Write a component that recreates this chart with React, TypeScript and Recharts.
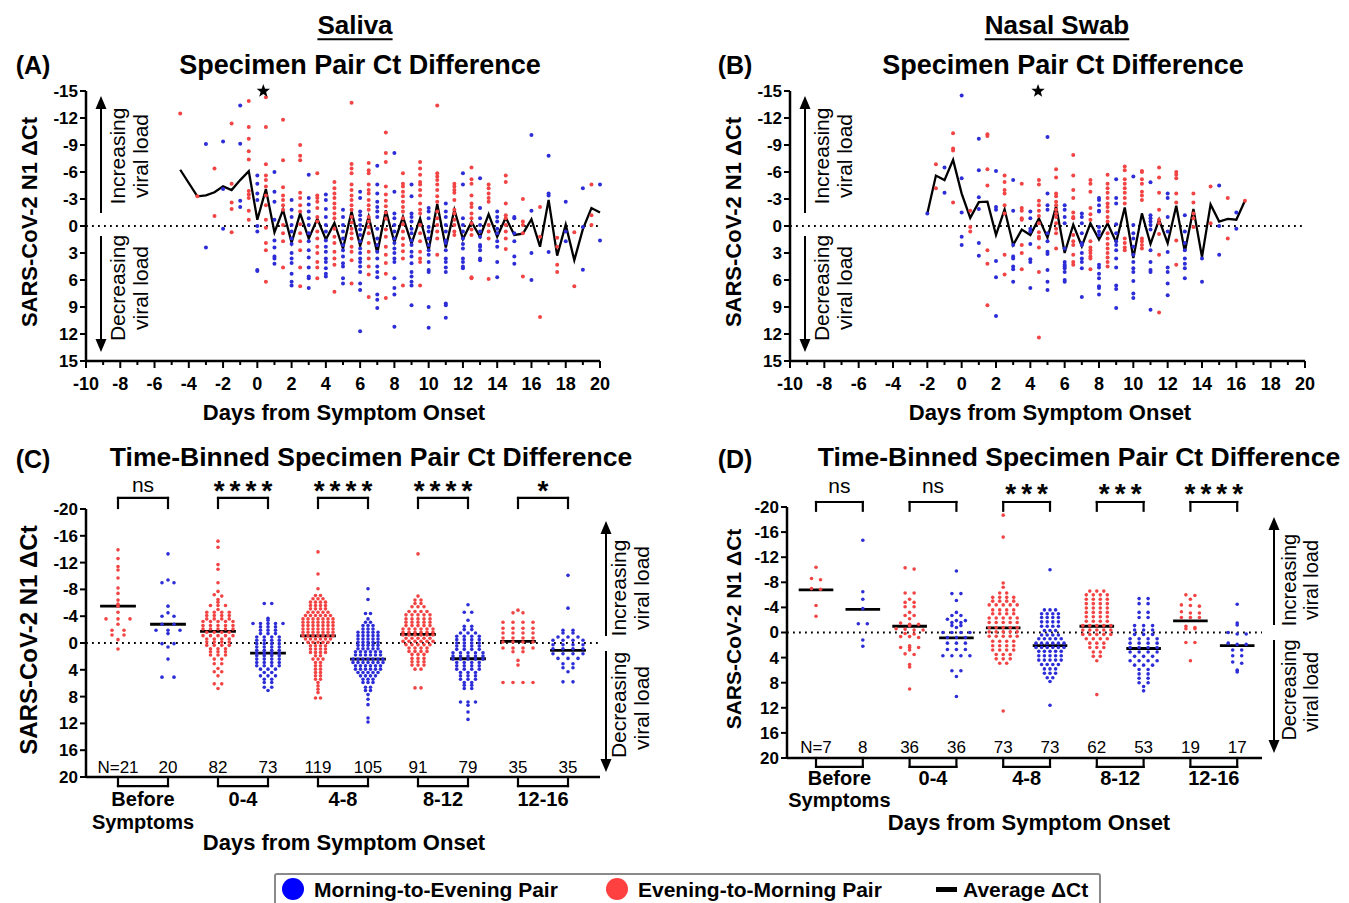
import React from 'react';
import { ComposedChart, Scatter, Line, XAxis, YAxis, ReferenceLine } from 'recharts';

const FONT = '"Liberation Sans", Arial, Helvetica, sans-serif';
const BLUE = '#2d2dd8';
const RED = '#f24444';

// ---------- Panel A: saliva, [day, ΔCt values of the pairs collected that day]
const salivaMorningEvening: [number, number[]][] = [
  [-3, [-9.1, 2.4]],
  [-2, [-9.4, -4.1, 0.3]],
  [-1, [-13.4, -9.15, -2.8, -2.1]],
  [0, [-5.6, -4.7, -3.6, -2.9, 0, 0.6, 4.9, 5.0]],
  [1, [-6.0, -3.8, -2.7, -0.7, 1.6, 2.4, 3.4, 3.6, 4.2]],
  [2, [-2.9, -1.8, -1.0, -0.1, 0.6, 1.4, 2.0, 3.0, 3.6, 4.1, 5.3, 6.2, 6.6]],
  [3, [-5.7, -3.1, -2.4, -1.6, -0.85, -0.1, 0.8, 1.7, 2.7, 3.5, 4.6, 5.6, 5.8, 6.9]],
  [4, [-3.5, -2.9, -1.9, -1.0, -0.1, 0.6, 1.6, 2.3, 2.85, 3.6, 4.0, 4.7, 5.3, 5.6]],
  [5, [-1.8, -1.0, -0.1, 0.6, 1.4, 2.1, 2.7, 3.4, 4.15, 4.5, 5.8, 6.4]],
  [6, [-3.8, -3.1, -1.6, -1.2, -0.7, -0.1, 0.4, 1.0, 1.7, 2.5, 3.0, 3.6, 4.0, 4.5, 5.1, 6.4, 7.1, 11.7]],
  [7, [-6.7, -4.6, -3.6, -2.7, -2.1, -1.6, -1.0, 0.3, 1.4, 2.1, 2.85, 3.6, 4.5, 5.1, 5.7, 7.6, 8.2, 9.1]],
  [8, [-8.1, -3.8, -1.4, -0.85, -0.1, 0.6, 1.4, 1.9, 2.5, 3.0, 3.6, 4.0, 5.8, 6.9, 7.6, 11.2]],
  [9, [-4.6, -3.3, -1.4, -1.0, -0.5, 0.3, 0.8, 1.6, 2.1, 2.85, 3.4, 4.15, 5.1, 5.6, 6.2, 6.6, 8.8]],
  [10, [-2.0, -1.6, -0.85, 0.1, 0.6, 1.4, 2.1, 2.7, 3.2, 4.0, 4.9, 5.1, 9.0, 11.3]],
  [11, [-2.5, -1.6, -1.0, -0.1, 0.6, 1.6, 1.9, 2.7, 3.6, 4.0, 4.6, 5.1, 8.6, 8.8, 10.2]],
  [12, [-5.85, -4.6, -0.85, -0.1, 0.6, 1.4, 2.0, 2.5, 3.6, 4.0, 4.5, 4.7]],
  [13, [-5.3, -2.0, -0.85, -0.1, 0.6, 1.2, 2.1, 2.3, 2.7, 3.6, 3.8]],
  [14, [-1.6, -1.0, -0.5, 0.3, 0.8, 1.7, 2.3, 4.0, 5.7]],
  [15, [-1.0, -0.85, 0.8, 1.7, 3.4, 4.2]],
  [16, [-10.1, -1.7, 3.0, 6.0]],
  [17, [-7.8, -3.6, -3.4, 2.9]],
  [18, [-2.7, 0.6, 1.7]],
  [19, [-4.2, 0.1, 4.85]],
  [20, [-4.6, 1.6]],
];
const salivaEveningMorning: [number, number[]][] = [
  [-4.5, [-12.5]],
  [-3.5, [-3.3]],
  [-2.5, [-6.4, -1.1]],
  [-1.5, [-11.4, -4.7, -2.6, -1.9, 0.7]],
  [-0.5, [-13.9, -11.0, -9.7, -8.3, -7.4, -3.9, -3.5, -3.1, -1.7, -0.7]],
  [0.5, [-14.3, -11.0, -6.85, -5.6, -5.1, -4.4, -3.4, -2.3, -0.7, 0.2, 1.9, 2.7, 6.2]],
  [1.5, [-11.8, -7.3, -4.3, -3.4, -2.9, -2.3, -1.8, -0.1, 0.8, 1.7, 4.6]],
  [2.5, [-9.0, -7.8, -7.3, -3.7, -3.1, -2.3, -1.6, -0.2, 0.8, 1.7, 2.7, 4.6, 6.7]],
  [3.5, [-5.85, -3.4, -3.1, -2.7, -2.0, -1.0, -0.5, 0.6, 1.4, 2.3, 3.0, 4.0, 4.6, 5.8]],
  [4.5, [-4.9, -4.2, -3.6, -3.1, -2.5, -2.0, -1.4, -0.85, 0.3, 1.2, 1.9, 2.85, 3.6, 4.3, 7.3]],
  [5.5, [-13.7, -6.9, -6.4, -5.85, -4.6, -4.0, -3.4, -2.9, -2.3, -1.8, -1.0, -0.4, 0.3, 0.8, 1.4, 2.3, 2.85, 3.8, 6.4]],
  [6.5, [-7.0, -6.2, -5.85, -4.6, -4.0, -3.6, -2.9, -2.3, -1.8, -1.0, -0.5, 0.1, 0.8, 1.9, 2.85, 3.6, 4.5, 5.4, 7.9]],
  [7.5, [-10.4, -8.1, -7.1, -4.4, -3.5, -2.8, -2.2, -1.5, -0.8, 0.4, 1.2, 2.3, 3.2, 4.1, 5.3, 8.0]],
  [8.5, [-5.85, -4.7, -4.4, -3.8, -3.3, -2.7, -2.1, -1.6, -0.85, -0.2, 0.6, 1.4, 2.1, 2.8, 3.6, 6.6]],
  [9.5, [-7.1, -6.4, -5.7, -4.9, -4.6, -4.0, -3.4, -2.5, -1.8, -1.4, -0.1, 0.8, 1.7, 2.85, 3.6, 4.0, 6.6]],
  [10.5, [-13.4, -5.85, -5.5, -5.1, -4.6, -4.0, -3.3, -2.7, -1.6, -0.85, -0.1, 0.6, 1.4, 3.2]],
  [11.5, [-4.7, -4.4, -4.0, -3.7, -2.9, -1.8, -1.4, -0.7, -0.1, 0.6, 1.0]],
  [12.5, [-6.5, -5.2, -4.7, -3.4, -2.5, -2.1, -1.4, -0.85, -0.3, 0.4, 1.0, 5.7, 5.8]],
  [13.5, [-4.6, -4.2, -3.6, -3.1, -2.7, -0.1, 0.6, 1.4, 5.9]],
  [14.5, [-5.6, -4.9, -2.5, -1.2, -0.85, -0.1, 0.6, 1.4, 2.55]],
  [15.5, [-3.0, -0.5, -0.1, 0.8, 5.6]],
  [16.5, [-2.1, 1.2, 10.1]],
  [17.5, [1.3, 2.3, 4.3, 5.1]],
  [18.5, [0.7, 6.7]],
  [19.5, [-4.6, -1.2, -0.1]],
];
const salivaAvgDays = [-4.5, -3.5, -3, -2.5, -2, -1.5, -1, -0.5, 0, 0.5, 1, 1.5, 2, 2.5, 3, 3.5, 4, 4.5, 5, 5.5, 6, 6.5, 7, 7.5, 8, 8.5, 9, 9.5, 10, 10.5, 11, 11.5, 12, 12.5, 13, 13.5, 14, 14.5, 15, 15.5, 16, 16.5, 17, 17.5, 18, 18.5, 19, 19.5, 20];
const salivaAvgDelta = [-6.25, -3.3, -3.4, -3.75, -4.4, -4.0, -5.1, -6.1, -0.7, -4.1, 0.7, -1.8, 1.85, -1.4, 1.4, -0.8, 1.5, -0.35, 2.5, -1.6, 2.2, -1.05, 3.0, -1.75, 1.8, -1.0, 1.95, -0.85, 2.7, -2.45, 2.4, -1.8, 1.45, -0.45, 1.2, -1.3, 1.2, -0.95, 1.0, 0.85, -0.75, 2.3, -2.9, 3.3, -0.15, 3.8, 0.35, -2.0, -1.5];

// ---------- Panel B: nasal swab
const nasalMorningEvening: [number, number[]][] = [
  [-2, [-1.4]],
  [-1, [-6.5, -3.7]],
  [0, [-14.5, -5.3, -1.5, 1.2, 2.1]],
  [1, [-9.7, -6.2, -3.2, -1.9, 1.9, 3.3]],
  [2, [-6.1, -2.1, -1.8, 3.9, 5.7, 10.0]],
  [3, [-5.1, -1.7, 2.1, 3.4, 3.6, 4.5, 4.8, 6.2]],
  [4, [-1.6, -0.85, 0.3, 0.6, 2.0, 3.7, 4.0, 6.9]],
  [5, [-9.9, -3.6, -2.3, -1.8, 0.8, 1.7, 2.85, 3.1, 4.9, 6.2, 7.1]],
  [6, [-2.3, -1.8, -1.0, -0.3, 2.5, 4.0, 4.3, 4.5, 4.7, 5.1, 6.0, 6.2]],
  [7, [-1.4, -1.0, -0.3, 0.8, 1.9, 2.1, 3.0, 3.6, 4.0, 4.7, 7.9]],
  [8, [-3.1, -2.9, -2.3, -1.7, -1.6, 0.1, 0.6, 1.0, 4.3, 4.6, 5.3, 5.8, 6.7, 6.9, 7.6]],
  [9, [-5.2, -3.1, -2.5, -0.2, 0.8, 1.7, 2.1, 2.7, 3.6, 4.6, 6.6, 7.0, 9.1]],
  [10, [-5.5, -0.1, 0.8, 1.4, 2.3, 3.2, 4.0, 4.7, 5.1, 6.1, 7.5, 8.0]],
  [11, [-4.85, -1.2, -0.85, -0.5, -0.1, 0.4, 2.7, 4.0, 4.9, 5.1, 9.3]],
  [12, [-3.6, -3.1, -1.0, 0.6, 2.9, 4.6, 5.1, 6.4, 7.7]],
  [13, [-1.2, 0.6, 1.9, 2.7, 3.6, 4.2, 4.7, 5.8]],
  [14, [3.6, 6.2]],
  [15, [-4.5, 0, 3.2]],
  [16, [-1.5, 0.3]],
];
const nasalEveningMorning: [number, number[]][] = [
  [-1.5, [-6.85, -4.2]],
  [-0.5, [-10.3, -8.6, -8.4, -2.6]],
  [0.5, [-1.7, 0.1, 0.6]],
  [1.5, [-10.2, -10.0, -6.3, -4.5, 2.7, 4.2, 8.8]],
  [2.5, [-5.6, -4.9, -4.0, -3.6, -2.3, -1.4, 3.2, 5.4]],
  [3.5, [-4.7, -2.0, -1.7, -0.85, -0.7, 2.1, 3.0, 4.8]],
  [4.5, [-5.1, -4.6, -2.8, -2.3, -1.7, -1.1, -0.3, 0.7, 1.2, 1.4, 2.4, 5.1, 12.4]],
  [5.5, [-6.3, -5.4, -3.6, -3.3, -2.7, -2.3, -1.8, -1.4, -1.0, -0.3, 0.3, 0.8, 2.5]],
  [6.5, [-7.9, -5.6, -4.0, -3.1, -1.5, -1.0, -0.85, 1.0, 1.7, 2.1, 3.2, 4.0, 4.3]],
  [7.5, [-5.1, -4.7, -3.8, -2.0, -1.3, -0.7, 1.7, 2.4, 2.7, 3.0, 3.4, 3.6, 4.8]],
  [8.5, [-5.7, -4.7, -4.2, -3.7, -3.1, -2.5, -2.1, -1.6, -1.0, -0.5, 0.8, 1.4, 2.0, 2.5, 3.0, 3.5, 4.0, 4.5]],
  [9.5, [-6.6, -6.2, -5.2, -4.7, -4.2, -3.7, -3.1, -2.5, 1.4, 1.9, 2.4, 2.7]],
  [10.5, [-6.1, -6.0, -5.2, -4.7, -3.8, -3.4, -2.9, 1.4, 1.7, 2.1, 2.5]],
  [11.5, [-6.5, -5.4, -3.7, -1.8, -0.7, -0.3, 0.9, 3.2, 9.6]],
  [12.5, [-6.0, -5.7, -5.3, -3.6, -2.6, 1.6, 4.3]],
  [13.5, [-3.6, -2.6, -1.4, -0.85, 0.1]],
  [14.5, [-4.4, -0.3]],
  [15.5, [-3.1, 1.4]],
  [16.5, [-2.8]],
];
const nasalAvgDays = [-2, -1.5, -1, -0.5, 0, 0.5, 1, 1.5, 2, 2.5, 3, 3.5, 4, 4.5, 5, 5.5, 6, 6.5, 7, 7.5, 8, 8.5, 9, 9.5, 10, 10.5, 11, 11.5, 12, 12.5, 13, 13.5, 14, 14.5, 15, 15.5, 16, 16.5];
const nasalAvgDelta = [-1.4, -5.6, -5.1, -7.35, -3.6, -0.9, -2.65, -2.7, 1.0, -1.85, 2.1, 0.4, 1.0, -0.85, 1.3, -2.2, 3.0, -0.15, 2.25, -0.3, 1.5, -0.3, 1.8, -2.05, 3.55, -1.4, 2.0, -0.7, 1.9, -2.25, 2.85, -1.9, 3.45, -2.4, -0.5, -0.8, -0.7, -2.8];

const dayTicks = [-10, -8, -6, -4, -2, 0, 2, 4, 6, 8, 10, 12, 14, 16, 18, 20];
const deltaTicksAB = [-15, -12, -9, -6, -3, 0, 3, 6, 9, 12, 15];
const deltaTicksCD = [-20, -16, -12, -8, -4, 0, 4, 8, 12, 16, 20];

// ---------- Panels C/D: time-binned pairs, each group as [ΔCt, number of pairs at that level]
const binLabels = [['Before', 'Symptoms'], ['0-4'], ['4-8'], ['8-12'], ['12-16']];

const salivaBins: [number, number][][] = [
  [[-13.9, 1], [-12.6, 1], [-11.4, 1], [-10.9, 1], [-9.7, 1], [-8.2, 1], [-7.4, 1], [-6.4, 1], [-5.8, 1], [-5.5, 1], [-4.6, 1], [-3.6, 3], [-2.8, 1], [-1.9, 2], [-1.2, 2], [-0.5, 1], [0.9, 1]],
  [[-13.3, 1], [-9.4, 1], [-9.0, 2], [-5.5, 1], [-4.5, 1], [-4.0, 2], [-2.8, 2], [-1.9, 3], [-1.4, 1], [0.1, 2], [0.6, 1], [2.4, 1], [5.1, 2]],
  [[-15.2, 1], [-14.3, 1], [-11.7, 1], [-11.0, 1], [-9.0, 1], [-7.7, 1], [-7.2, 1], [-7.0, 1], [-6.5, 1], [-6.1, 1], [-5.6, 3], [-5.0, 1], [-4.6, 4], [-4.1, 4], [-3.6, 4], [-3.2, 5], [-2.6, 5], [-2.1, 5], [-1.6, 4], [-1.1, 5], [-0.6, 4], [-0.15, 4], [0.35, 4], [0.85, 3], [1.3, 3], [1.8, 3], [2.4, 2], [3.1, 2], [3.8, 1], [4.3, 2], [4.9, 1], [6.1, 2], [6.8, 1]],
  [[-5.9, 2], [-3.7, 1], [-3.4, 1], [-2.9, 5], [-2.4, 3], [-1.9, 3], [-1.4, 3], [-0.9, 4], [-0.4, 4], [0.1, 4], [0.6, 4], [1.1, 4], [1.5, 4], [1.9, 4], [2.4, 4], [2.9, 4], [3.4, 4], [3.9, 3], [4.4, 2], [4.9, 3], [5.4, 2], [5.9, 2], [6.6, 2], [7.1, 1]],
  [[-13.6, 1], [-10.3, 1], [-8.1, 1], [-7.1, 2], [-6.6, 3], [-6.1, 4], [-5.6, 4], [-5.1, 4], [-4.6, 5], [-4.1, 6], [-3.6, 7], [-3.1, 7], [-2.6, 7], [-2.1, 7], [-1.6, 7], [-1.1, 7], [-0.6, 6], [-0.1, 5], [0.4, 4], [0.9, 4], [1.4, 4], [1.9, 2], [2.4, 3], [2.9, 2], [3.4, 2], [3.9, 2], [4.4, 2], [4.9, 2], [5.4, 2], [5.9, 1], [6.4, 1], [6.9, 1], [7.4, 1], [8.2, 2]],
  [[-8.1, 1], [-6.5, 1], [-4.4, 2], [-3.6, 1], [-3.1, 2], [-2.6, 3], [-2.1, 3], [-1.6, 5], [-1.1, 5], [-0.6, 5], [-0.1, 5], [0.35, 5], [0.85, 5], [1.3, 6], [1.8, 6], [2.4, 7], [2.9, 7], [3.4, 6], [3.9, 6], [4.4, 5], [4.9, 4], [5.4, 3], [5.9, 3], [6.6, 2], [7.1, 2], [7.7, 1], [8.4, 1], [9.2, 1], [11.2, 1], [11.8, 1]],
  [[-13.3, 1], [-7.0, 1], [-6.4, 2], [-5.9, 2], [-5.4, 3], [-4.7, 4], [-4.2, 5], [-3.6, 5], [-3.1, 5], [-2.6, 5], [-2.1, 6], [-1.6, 6], [-1.2, 6], [-0.7, 5], [-0.25, 6], [0.25, 5], [0.75, 4], [1.25, 4], [1.7, 3], [2.3, 3], [2.8, 3], [3.3, 3], [3.9, 2], [6.7, 2]],
  [[-5.7, 1], [-4.6, 2], [-3.4, 1], [-2.5, 2], [-2.0, 2], [-1.5, 3], [-1.0, 4], [-0.5, 4], [0, 4], [0.45, 4], [0.95, 4], [1.45, 5], [1.95, 5], [2.4, 5], [2.9, 4], [3.4, 4], [3.9, 4], [4.4, 3], [4.9, 3], [5.4, 3], [5.9, 2], [6.3, 2], [6.8, 2], [8.8, 3], [9.3, 1], [10.3, 1], [11.4, 1]],
  [[-4.9, 1], [-4.5, 2], [-3.1, 4], [-2.2, 4], [-1.5, 4], [-0.75, 4], [-0.15, 4], [0.75, 4], [1.3, 2], [2.6, 1], [3.3, 1], [5.9, 4]],
  [[-10.1, 1], [-5.2, 1], [-1.9, 2], [-1.5, 2], [-0.9, 3], [-0.4, 4], [0.25, 4], [0.85, 4], [1.6, 4], [2.3, 3], [3.1, 2], [3.7, 2], [4.3, 1], [5.8, 2]],
];
const salivaMeans = [-5.5, -2.8, -1.75, 1.5, -1.05, 2.4, -1.3, 2.35, -0.25, 1.1];
const salivaN = [21, 20, 82, 73, 119, 105, 91, 79, 35, 35];
const salivaSig = ['ns', '****', '****', '****', '*'];

const nasalBins: [number, number][][] = [
  [[-10.4, 1], [-8.6, 1], [-8.4, 1], [-7.0, 1], [-6.9, 1], [-4.3, 1], [-2.6, 1]],
  [[-14.7, 1], [-6.5, 1], [-5.3, 1], [-3.8, 1], [-1.4, 2], [1.2, 1], [2.2, 1]],
  [[-10.3, 1], [-10.1, 1], [-6.3, 2], [-5.3, 1], [-4.8, 2], [-4.1, 2], [-3.2, 1], [-2.7, 2], [-2.2, 1], [-1.5, 1], [-1.3, 2], [-1.1, 1], [-0.6, 1], [-0.5, 1], [-0.4, 2], [0.15, 1], [0.25, 1], [0.65, 2], [0.8, 1], [2.1, 1], [2.4, 3], [2.8, 1], [3.4, 1], [3.5, 1], [5.1, 1], [5.5, 1], [9.0, 1]],
  [[-9.8, 1], [-6.2, 2], [-5.1, 1], [-3.2, 1], [-2.7, 2], [-2.1, 1], [-1.9, 2], [-1.6, 2], [-1.1, 2], [-0.8, 1], [0, 4], [0.8, 3], [1.7, 3], [2.7, 3], [3.7, 4], [6.1, 2], [7.0, 1], [10.2, 1]],
  [[-18.7, 1], [-15.2, 1], [-7.9, 1], [-7.2, 1], [-6.3, 2], [-5.6, 4], [-5.0, 4], [-4.4, 5], [-3.6, 4], [-3.0, 4], [-2.3, 5], [-1.6, 5], [-0.8, 5], [-0.1, 5], [0.6, 5], [1.4, 4], [2.1, 4], [2.8, 4], [3.5, 3], [4.2, 3], [4.9, 2], [12.5, 1]],
  [[-10.0, 1], [-3.6, 3], [-3.0, 4], [-2.4, 4], [-1.7, 4], [-1.0, 4], [-0.3, 3], [0.4, 4], [1.0, 5], [1.7, 6], [2.4, 6], [3.0, 5], [3.7, 5], [4.4, 5], [5.1, 4], [5.8, 3], [6.5, 3], [7.2, 2], [7.8, 1], [11.6, 1]],
  [[-6.6, 3], [-6.0, 4], [-5.3, 4], [-4.6, 4], [-3.9, 4], [-3.2, 4], [-2.5, 4], [-1.8, 4], [-1.1, 5], [-0.4, 5], [0.3, 5], [1.0, 4], [1.7, 3], [2.4, 3], [3.1, 2], [3.8, 2], [4.5, 1], [9.9, 1]],
  [[-5.4, 2], [-4.6, 2], [-3.2, 2], [-2.4, 2], [-1.1, 3], [-0.4, 3], [0.3, 3], [1.0, 4], [1.7, 4], [2.4, 4], [3.1, 4], [3.8, 3], [4.5, 4], [5.2, 3], [5.9, 2], [6.6, 2], [7.3, 2], [8.0, 2], [8.6, 1], [9.3, 1]],
  [[-6.0, 1], [-5.9, 1], [-5.3, 1], [-4.4, 1], [-4.3, 1], [-4.2, 1], [-3.3, 1], [-3.1, 2], [-2.4, 3], [-1.0, 1], [-0.8, 1], [-0.6, 2], [1.6, 2], [4.5, 1]],
  [[-4.5, 1], [-1.5, 1], [-1.2, 1], [0, 1], [0.25, 2], [1.7, 1], [1.9, 2], [2.8, 2], [3.7, 2], [4.7, 1], [4.9, 1], [6.0, 1], [6.3, 1]],
];
const nasalMeans = [-6.8, -3.7, -1.0, 0.85, -0.75, 2.1, -1.0, 2.55, -1.85, 2.1];
const nasalN = [7, 8, 36, 36, 73, 73, 62, 53, 19, 17];
const nasalSig = ['ns', 'ns', '***', '***', '****'];

// ---------- helpers
type Pt = { x: number; y: number };
const toPoints = (cols: [number, number[]][]): Pt[] => cols.flatMap(([x, ys]) => ys.map((y) => ({ x, y })));
const zip = (xs: number[], ys: number[]): Pt[] => xs.map((x, i) => ({ x, y: ys[i] }));

// beeswarm: stack equal levels in rows, spread each row around the group centre
function swarm(groups: [number, number][][], pxPerX: number, pxPerY: number, maxW: number, maxStep: number) {
  const red: Pt[] = [];
  const blue: Pt[] = [];
  groups.forEach((levels, gi) => {
    const vals = levels.flatMap(([v, n]) => Array.from({ length: n }, () => v)).sort((a, b) => a - b);
    const rows: number[][] = [];
    vals.forEach((v) => {
      const last = rows[rows.length - 1];
      if (last && Math.abs(v - last[0]) * pxPerY < 1.6) last.push(v);
      else rows.push([v]);
    });
    const widest = Math.max(...rows.map((r) => r.length));
    const step = widest > 1 ? Math.min(maxStep, maxW / (widest - 1)) : maxStep;
    const target = gi % 2 === 0 ? red : blue;
    rows.forEach((r) =>
      r.forEach((v, j) => target.push({ x: gi + ((j - (r.length - 1) / 2) * step) / pxPerX, y: v }))
    );
  });
  return { red, blue };
}

const dotShape = (color: string, r: number) => (p: any) => <circle cx={p.cx} cy={p.cy} r={r} fill={color} />;
const starShape = (p: any) => {
  const pts: string[] = [];
  for (let k = 0; k < 10; k++) {
    const rad = k % 2 === 0 ? 7 : 2.9;
    const a = -Math.PI / 2 + (k * Math.PI) / 5;
    pts.push(`${p.cx + rad * Math.cos(a)},${p.cy + rad * Math.sin(a)}`);
  }
  return <polygon points={pts.join(' ')} fill="#000" />;
};

const axisLine = { stroke: '#000', strokeWidth: 2.5 };

function DayTick(props: any) {
  const { x, y, payload } = props;
  const v = payload.value;
  const major = dayTicks.includes(v);
  return (
    <g>
      <line x1={x} x2={x} y1={y} y2={y + (major ? 7 : 4)} stroke="#000" strokeWidth={2} />
      {major && (
        <text x={x} y={y + 23} dy="0.35em" textAnchor="middle" fontFamily={FONT} fontWeight={700} fontSize={18} fill="#000">
          {v}
        </text>
      )}
    </g>
  );
}
function DeltaTick(props: any) {
  const { x, y, payload } = props;
  return (
    <g>
      <line x1={x} x2={x - 6} y1={y} y2={y} stroke="#000" strokeWidth={2} />
      <text x={x - 8} y={y} dy="0.35em" textAnchor="end" fontFamily={FONT} fontWeight={700} fontSize={17} fill="#000">
        {payload.value}
      </text>
    </g>
  );
}

function T({ x, y, size, bold = true, rotate = false, underline = false, align = 'center', spacing = 0, children }: any) {
  const tx = align === 'left' ? '0' : '-50%';
  return (
    <div
      style={{
        position: 'absolute',
        left: x,
        top: y,
        transform: `translate(${tx}, -50%)${rotate ? ' rotate(-90deg)' : ''}`,
        fontFamily: FONT,
        fontSize: size,
        fontWeight: bold ? 700 : 400,
        whiteSpace: 'nowrap',
        lineHeight: 0.75,
        color: '#000',
        letterSpacing: spacing,
        paddingLeft: spacing,
        textDecoration: underline ? 'underline' : 'none',
        textUnderlineOffset: 4,
        textDecorationThickness: 2,
      }}
    >
      {children}
    </div>
  );
}

type Layout = { left: number; top: number; w: number; h: number; plotL: number; plotR: number; plotT: number; plotB: number };
const Y_W = 44;
const marginOf = (L: Layout, xh: number) => ({
  top: L.plotT - L.top,
  right: L.left + L.w - L.plotR,
  bottom: L.top + L.h - L.plotB - xh,
  left: L.plotL - L.left - Y_W,
});

function DayPanel({ L, red, blue, avg, star }: { L: Layout; red: Pt[]; blue: Pt[]; avg: Pt[]; star: Pt[] }) {
  const allTicks = dayTicks.flatMap((t, i) => (i ? [t - 1, t] : [t]));
  return (
    <div style={{ position: 'absolute', left: L.left, top: L.top }}>
      <ComposedChart width={L.w} height={L.h} margin={marginOf(L, 30)}>
        <XAxis type="number" dataKey="x" domain={[-10, 20]} ticks={allTicks} interval={0} tick={(p: any) => <DayTick {...p} />} tickLine={false} tickSize={0} tickMargin={0} axisLine={axisLine} height={30} />
        <YAxis type="number" dataKey="y" domain={[-15, 15]} reversed ticks={deltaTicksAB} interval={0} tick={(p: any) => <DeltaTick {...p} />} tickLine={false} tickSize={0} tickMargin={0} axisLine={axisLine} width={Y_W} />
        <ReferenceLine y={0} stroke="#000" strokeWidth={1.8} strokeDasharray="1.8 4.2" />
        <Scatter data={red} shape={dotShape(RED, 2)} isAnimationActive={false} />
        <Scatter data={blue} shape={dotShape(BLUE, 2)} isAnimationActive={false} />
        <Line data={avg} dataKey="y" type="linear" stroke="#000" strokeWidth={2.3} dot={false} activeDot={false} isAnimationActive={false} />
        <Scatter data={star} shape={starShape} isAnimationActive={false} />
      </ComposedChart>
    </div>
  );
}

type BinGeom = { xMin: number; xMax: number; bracketTop: number; bracketLeg: number; bracketBottom: number; maxW: number; maxStep: number; meanHalf: number };

function BinPanel({ L, G, bins, means }: { L: Layout; G: BinGeom; bins: [number, number][][]; means: number[] }) {
  const pxPerX = (L.plotR - L.plotL) / (G.xMax - G.xMin);
  const pxPerY = (L.plotB - L.plotT) / 40;
  const { red, blue } = swarm(bins, pxPerX, pxPerY, G.maxW, G.maxStep);
  const seg = (a: number, b: number, c: number, d: number, key: string, w = 2.2) => (
    <ReferenceLine key={key} segment={[{ x: a, y: b }, { x: c, y: d }]} stroke="#000" strokeWidth={w} strokeLinecap="square" ifOverflow="visible" />
  );
  const pairs = [0, 2, 4, 6, 8];
  return (
    <div style={{ position: 'absolute', left: L.left, top: L.top }}>
      <ComposedChart width={L.w} height={L.h} margin={marginOf(L, 20)}>
        <XAxis type="number" dataKey="x" domain={[G.xMin, G.xMax]} tick={false} tickLine={false} axisLine={axisLine} height={20} />
        <YAxis type="number" dataKey="y" domain={[-20, 20]} reversed ticks={deltaTicksCD} interval={0} tick={(p: any) => <DeltaTick {...p} />} tickLine={false} tickSize={0} tickMargin={0} axisLine={axisLine} width={Y_W} />
        <ReferenceLine y={0} stroke="#000" strokeWidth={1.8} strokeDasharray="1.8 4.2" />
        <Scatter data={red} shape={dotShape(RED, 1.8)} isAnimationActive={false} />
        <Scatter data={blue} shape={dotShape(BLUE, 1.8)} isAnimationActive={false} />
        {means.map((m, i) => seg(i - G.meanHalf, m, i + G.meanHalf, m, `m${i}`, 2.8))}
        {pairs.flatMap((i) => [
          seg(i, G.bracketLeg, i, G.bracketTop, `a${i}`),
          seg(i, G.bracketTop, i + 1, G.bracketTop, `b${i}`),
          seg(i + 1, G.bracketTop, i + 1, G.bracketLeg, `c${i}`),
          seg(i, 20, i, G.bracketBottom, `d${i}`),
          seg(i, G.bracketBottom, i + 1, G.bracketBottom, `e${i}`),
          seg(i + 1, G.bracketBottom, i + 1, 20, `f${i}`),
        ])}
      </ComposedChart>
    </div>
  );
}

function Arrow({ x, tipTop, upEnd, downStart, tipBottom }: any) {
  return (
    <g>
      <line x1={x} x2={x} y1={tipTop + 10} y2={upEnd} stroke="#000" strokeWidth={2} />
      <polygon points={`${x},${tipTop} ${x - 5.5},${tipTop + 13} ${x + 5.5},${tipTop + 13}`} fill="#000" />
      <line x1={x} x2={x} y1={downStart} y2={tipBottom - 10} stroke="#000" strokeWidth={2} />
      <polygon points={`${x},${tipBottom} ${x - 5.5},${tipBottom - 13} ${x + 5.5},${tipBottom - 13}`} fill="#000" />
    </g>
  );
}

const LA: Layout = { left: 0, top: 0, w: 620, h: 430, plotL: 86, plotR: 600, plotT: 91, plotB: 361 };
const LB: Layout = { left: 700, top: 0, w: 620, h: 430, plotL: 790, plotR: 1305, plotT: 91, plotB: 361 };
const LC: Layout = { left: 0, top: 440, w: 660, h: 420, plotL: 86, plotR: 600, plotT: 509, plotB: 777 };
const LD: Layout = { left: 700, top: 440, w: 649, h: 420, plotL: 787, plotR: 1262, plotT: 507, plotB: 758 };
const GC: BinGeom = { xMin: -0.64, xMax: 9.64, bracketTop: -21.65, bracketLeg: -20.15, bracketBottom: 21.35, maxW: 30, maxStep: 12, meanHalf: 0.33 };
const GD: BinGeom = { xMin: -0.62, xMax: 9.53, bracketTop: -20.8, bracketLeg: -19.4, bracketBottom: 21.4, maxW: 28, maxStep: 9, meanHalf: 0.34 };

function BinTexts({ L, G, n, sig, sigY, nsY, nY, labelY, label2Y }: any) {
  const px = (v: number) => L.plotL + ((v - G.xMin) / (G.xMax - G.xMin)) * (L.plotR - L.plotL);
  return (
    <>
      {sig.map((s: string, k: number) =>
        s === 'ns' ? (
          <T key={`s${k}`} x={px(2 * k + 0.5)} y={nsY} size={21} bold={false}>ns</T>
        ) : (
          <T key={`s${k}`} x={px(2 * k + 0.5)} y={sigY} size={28} spacing={5}>{s}</T>
        )
      )}
      {n.map((v: number, i: number) => (
        <T key={`n${i}`} x={px(i)} y={nY} size={17} bold={false}>
          {i === 0 ? `N=${v}` : v}
        </T>
      ))}
      {binLabels.map((lines, k) => (
        <React.Fragment key={`l${k}`}>
          <T x={px(2 * k + 0.5)} y={labelY} size={20}>{lines[0]}</T>
          {lines[1] && <T x={px(2 * k + 0.5)} y={label2Y} size={20}>{lines[1]}</T>}
        </React.Fragment>
      ))}
    </>
  );
}

export default function App() {
  const salivaRed = toPoints(salivaEveningMorning);
  const salivaBlue = toPoints(salivaMorningEvening);
  const nasalRed = toPoints(nasalEveningMorning);
  const nasalBlue = toPoints(nasalMorningEvening);
  return (
    <div style={{ position: 'absolute', left: 0, top: 0, width: 1349, height: 903, background: '#fff', overflow: 'hidden' }}>
      <DayPanel L={LA} red={salivaRed} blue={salivaBlue} avg={zip(salivaAvgDays, salivaAvgDelta)} star={[{ x: 0.35, y: -15 }]} />
      <DayPanel L={LB} red={nasalRed} blue={nasalBlue} avg={zip(nasalAvgDays, nasalAvgDelta)} star={[{ x: 4.45, y: -15 }]} />
      <BinPanel L={LC} G={GC} bins={salivaBins} means={salivaMeans} />
      <BinPanel L={LD} G={GD} bins={nasalBins} means={nasalMeans} />

      <svg style={{ position: 'absolute', left: 0, top: 0, pointerEvents: 'none' }} width={1349} height={903}>
        <Arrow x={101} tipTop={96} upEnd={213} downStart={236} tipBottom={352} />
        <Arrow x={805} tipTop={96} upEnd={213} downStart={236} tipBottom={352} />
        <Arrow x={606} tipTop={521} upEnd={636} downStart={651} tipBottom={772} />
        <Arrow x={1274} tipTop={517} upEnd={625} downStart={640} tipBottom={753} />
      </svg>

      {/* panel A/B titles */}
      <T x={355} y={26} size={26} underline>Saliva</T>
      <T x={1057} y={26} size={26} underline>Nasal Swab</T>
      <T x={33} y={65} size={25}>(A)</T>
      <T x={735} y={65} size={25}>(B)</T>
      <T x={360} y={65} size={27}>Specimen Pair Ct Difference</T>
      <T x={1063} y={65} size={27}>Specimen Pair Ct Difference</T>
      <T x={30} y={222} size={22} rotate>SARS-CoV-2 N1 ΔCt</T>
      <T x={734} y={222} size={22} rotate>SARS-CoV-2 N1 ΔCt</T>
      <T x={344} y={413} size={22}>Days from Symptom Onset</T>
      <T x={1050} y={413} size={22}>Days from Symptom Onset</T>
      {[118, 822].map((x) => (
        <React.Fragment key={x}>
          <T x={x} y={156} size={21} bold={false} rotate>Increasing</T>
          <T x={x + 23} y={156} size={21} bold={false} rotate>viral load</T>
          <T x={x} y={288} size={21} bold={false} rotate>Decreasing</T>
          <T x={x + 23} y={288} size={21} bold={false} rotate>viral load</T>
        </React.Fragment>
      ))}

      {/* panel C/D titles */}
      <T x={33} y={459} size={25}>(C)</T>
      <T x={735} y={459} size={25}>(D)</T>
      <T x={371} y={458} size={26.5}>Time-Binned Specimen Pair Ct Difference</T>
      <T x={1079} y={458} size={26.5}>Time-Binned Specimen Pair Ct Difference</T>
      <T x={29} y={640} size={24} rotate>SARS-CoV-2 N1 ΔCt</T>
      <T x={734} y={629} size={21} rotate>SARS-CoV-2 N1 ΔCt</T>
      <T x={344} y={843} size={22}>Days from Symptom Onset</T>
      <T x={1029} y={823} size={22}>Days from Symptom Onset</T>
      <T x={619} y={588} size={21} bold={false} rotate>Increasing</T>
      <T x={642} y={588} size={21} bold={false} rotate>viral load</T>
      <T x={619} y={705} size={21} bold={false} rotate>Decreasing</T>
      <T x={642} y={708} size={21} bold={false} rotate>viral load</T>
      <T x={1289} y={580} size={20} bold={false} rotate>Increasing</T>
      <T x={1311} y={580} size={20} bold={false} rotate>viral load</T>
      <T x={1289} y={690} size={20} bold={false} rotate>Decreasing</T>
      <T x={1311} y={692} size={20} bold={false} rotate>viral load</T>
      <BinTexts L={LC} G={GC} n={salivaN} sig={salivaSig} sigY={490} nsY={485} nY={768} labelY={799} label2Y={822} />
      <BinTexts L={LD} G={GD} n={nasalN} sig={nasalSig} sigY={493} nsY={486} nY={748} labelY={778} label2Y={800} />

      {/* legend */}
      <div style={{ position: 'absolute', left: 274, top: 873, width: 827, height: 40, border: '2px solid #8a8a8a', borderRadius: 3, boxSizing: 'border-box' }} />
      <div style={{ position: 'absolute', left: 282, top: 878, width: 22, height: 22, borderRadius: '50%', background: '#0000ff' }} />
      <T x={314} y={890} size={21} align="left">Morning-to-Evening Pair</T>
      <div style={{ position: 'absolute', left: 606, top: 878, width: 22, height: 22, borderRadius: '50%', background: '#ff4040' }} />
      <T x={638} y={890} size={21} align="left">Evening-to-Morning Pair</T>
      <div style={{ position: 'absolute', left: 936, top: 887, width: 21, height: 5, background: '#000' }} />
      <T x={963} y={890} size={21} align="left">Average ΔCt</T>
    </div>
  );
}
